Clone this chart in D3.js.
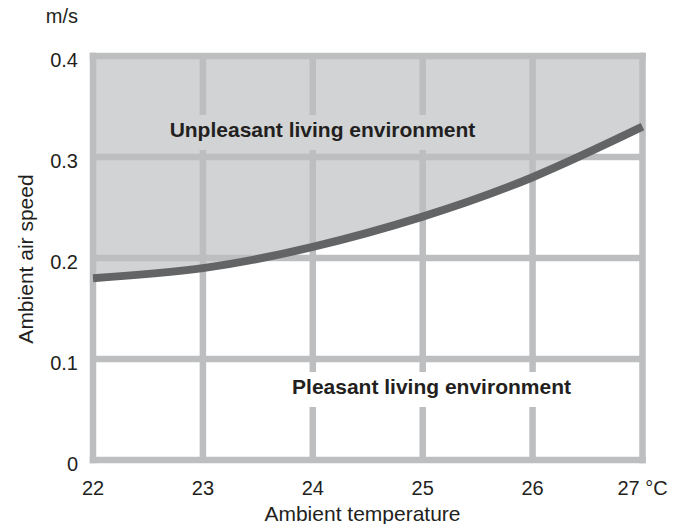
<!DOCTYPE html>
<html lang="en">
<head>
<meta charset="UTF-8">
<title>Ambient air speed vs temperature</title>
<script src="https://d3js.org/d3.v7.min.js"></script>
<style>
    body { margin: 0; background: #ffffff; overflow: hidden; }
    text { font-family: "Liberation Sans", Arial, sans-serif; fill: #231f20; }
</style>
</head>
<body>
<div id="chart"></div>
<script>
    // limit curve (temperature in °C, air speed in m/s)
    const temps = [22, 23, 24, 25, 26, 27];
    const speeds = [0.18, 0.19, 0.211, 0.241, 0.28, 0.33];
    const xTicks = [22, 23, 24, 25, 26, 27];
    const yTicks = [0, 0.1, 0.2, 0.3, 0.4];
    const xTickLabels = ["22", "23", "24", "25", "26", "27 °C"];
    const yTickLabels = ["0", "0.1", "0.2", "0.3", "0.4"];

    const width = 688, height = 524;
    const gridColor = "#bcbec0", shade = "#d1d3d4", curveColor = "#636466";

    const x = d3.scaleLinear().domain([22, 27]).range([93, 642.5]);
    const y = d3.scaleLinear().domain([0, 0.4]).range([460, 56]);

    const svg = d3.select("#chart").append("svg")
        .attr("width", width)
        .attr("height", height);

    const pts = temps.map((t, i) => [t, speeds[i]]);

    // shaded "unpleasant" area above the curve
    svg.append("path")
        .datum(pts)
        .attr("fill", shade)
        .attr("d", d3.area()
            .x(d => x(d[0]))
            .y0(y(0.4))
            .y1(d => y(d[1]))
            .curve(d3.curveNatural));

    // grid
    const grid = svg.append("g").attr("stroke", gridColor).attr("stroke-width", 6.5);
    grid.selectAll(".vx").data(xTicks).join("line")
        .attr("x1", d => x(d)).attr("x2", d => x(d))
        .attr("y1", y(0.4)).attr("y2", y(0))
        .attr("stroke-linecap", d => (d === 22 || d === 27) ? "square" : "butt");
    grid.selectAll(".hy").data(yTicks).join("line")
        .attr("x1", x(22)).attr("x2", x(27))
        .attr("y1", d => y(d)).attr("y2", d => y(d))
        .attr("stroke-linecap", d => (d === 0 || d === 0.4) ? "square" : "butt");

    // region labels with a knock-out box behind each
    function regionLabel(txt, cx, baseline, bg) {
        const box = svg.append("rect").attr("fill", bg);
        const t = svg.append("text")
            .attr("x", cx).attr("y", baseline)
            .attr("text-anchor", "middle")
            .style("font-size", "21px")
            .style("font-weight", "bold")
            .text(txt);
        const b = t.node().getBBox();
        box.attr("x", b.x - 7).attr("y", b.y - 3)
            .attr("width", b.width + 14).attr("height", b.height + 12);
    }
    regionLabel("Unpleasant living environment", 322.5, 137, shade);
    regionLabel("Pleasant living environment", 431.5, 394, "#ffffff");

    // limit curve
    svg.append("path")
        .datum(pts)
        .attr("fill", "none")
        .attr("stroke", curveColor)
        .attr("stroke-width", 8)
        .attr("d", d3.line()
            .x(d => x(d[0]))
            .y(d => y(d[1]))
            .curve(d3.curveNatural));

    // tick labels
    svg.append("g").selectAll("text").data(xTicks).join("text")
        .attr("x", d => x(d))
        .attr("y", 495)
        .attr("text-anchor", "middle")
        .style("font-size", "20px")
        .text((d, i) => xTickLabels[i]);

    svg.append("g").selectAll("text").data(yTicks).join("text")
        .attr("x", 78)
        .attr("y", d => y(d) + 11)
        .attr("text-anchor", "end")
        .style("font-size", "20px")
        .text((d, i) => yTickLabels[i]);

    svg.append("text")
        .attr("x", 78).attr("y", 23)
        .attr("text-anchor", "end")
        .style("font-size", "20px")
        .text("m/s");

    // axis titles
    svg.append("text")
        .attr("x", 362.5).attr("y", 521)
        .attr("text-anchor", "middle")
        .style("font-size", "21px")
        .text("Ambient temperature");

    svg.append("text")
        .attr("transform", "translate(33,259) rotate(-90)")
        .attr("text-anchor", "middle")
        .style("font-size", "21px")
        .text("Ambient air speed");
</script>
</body>
</html>
